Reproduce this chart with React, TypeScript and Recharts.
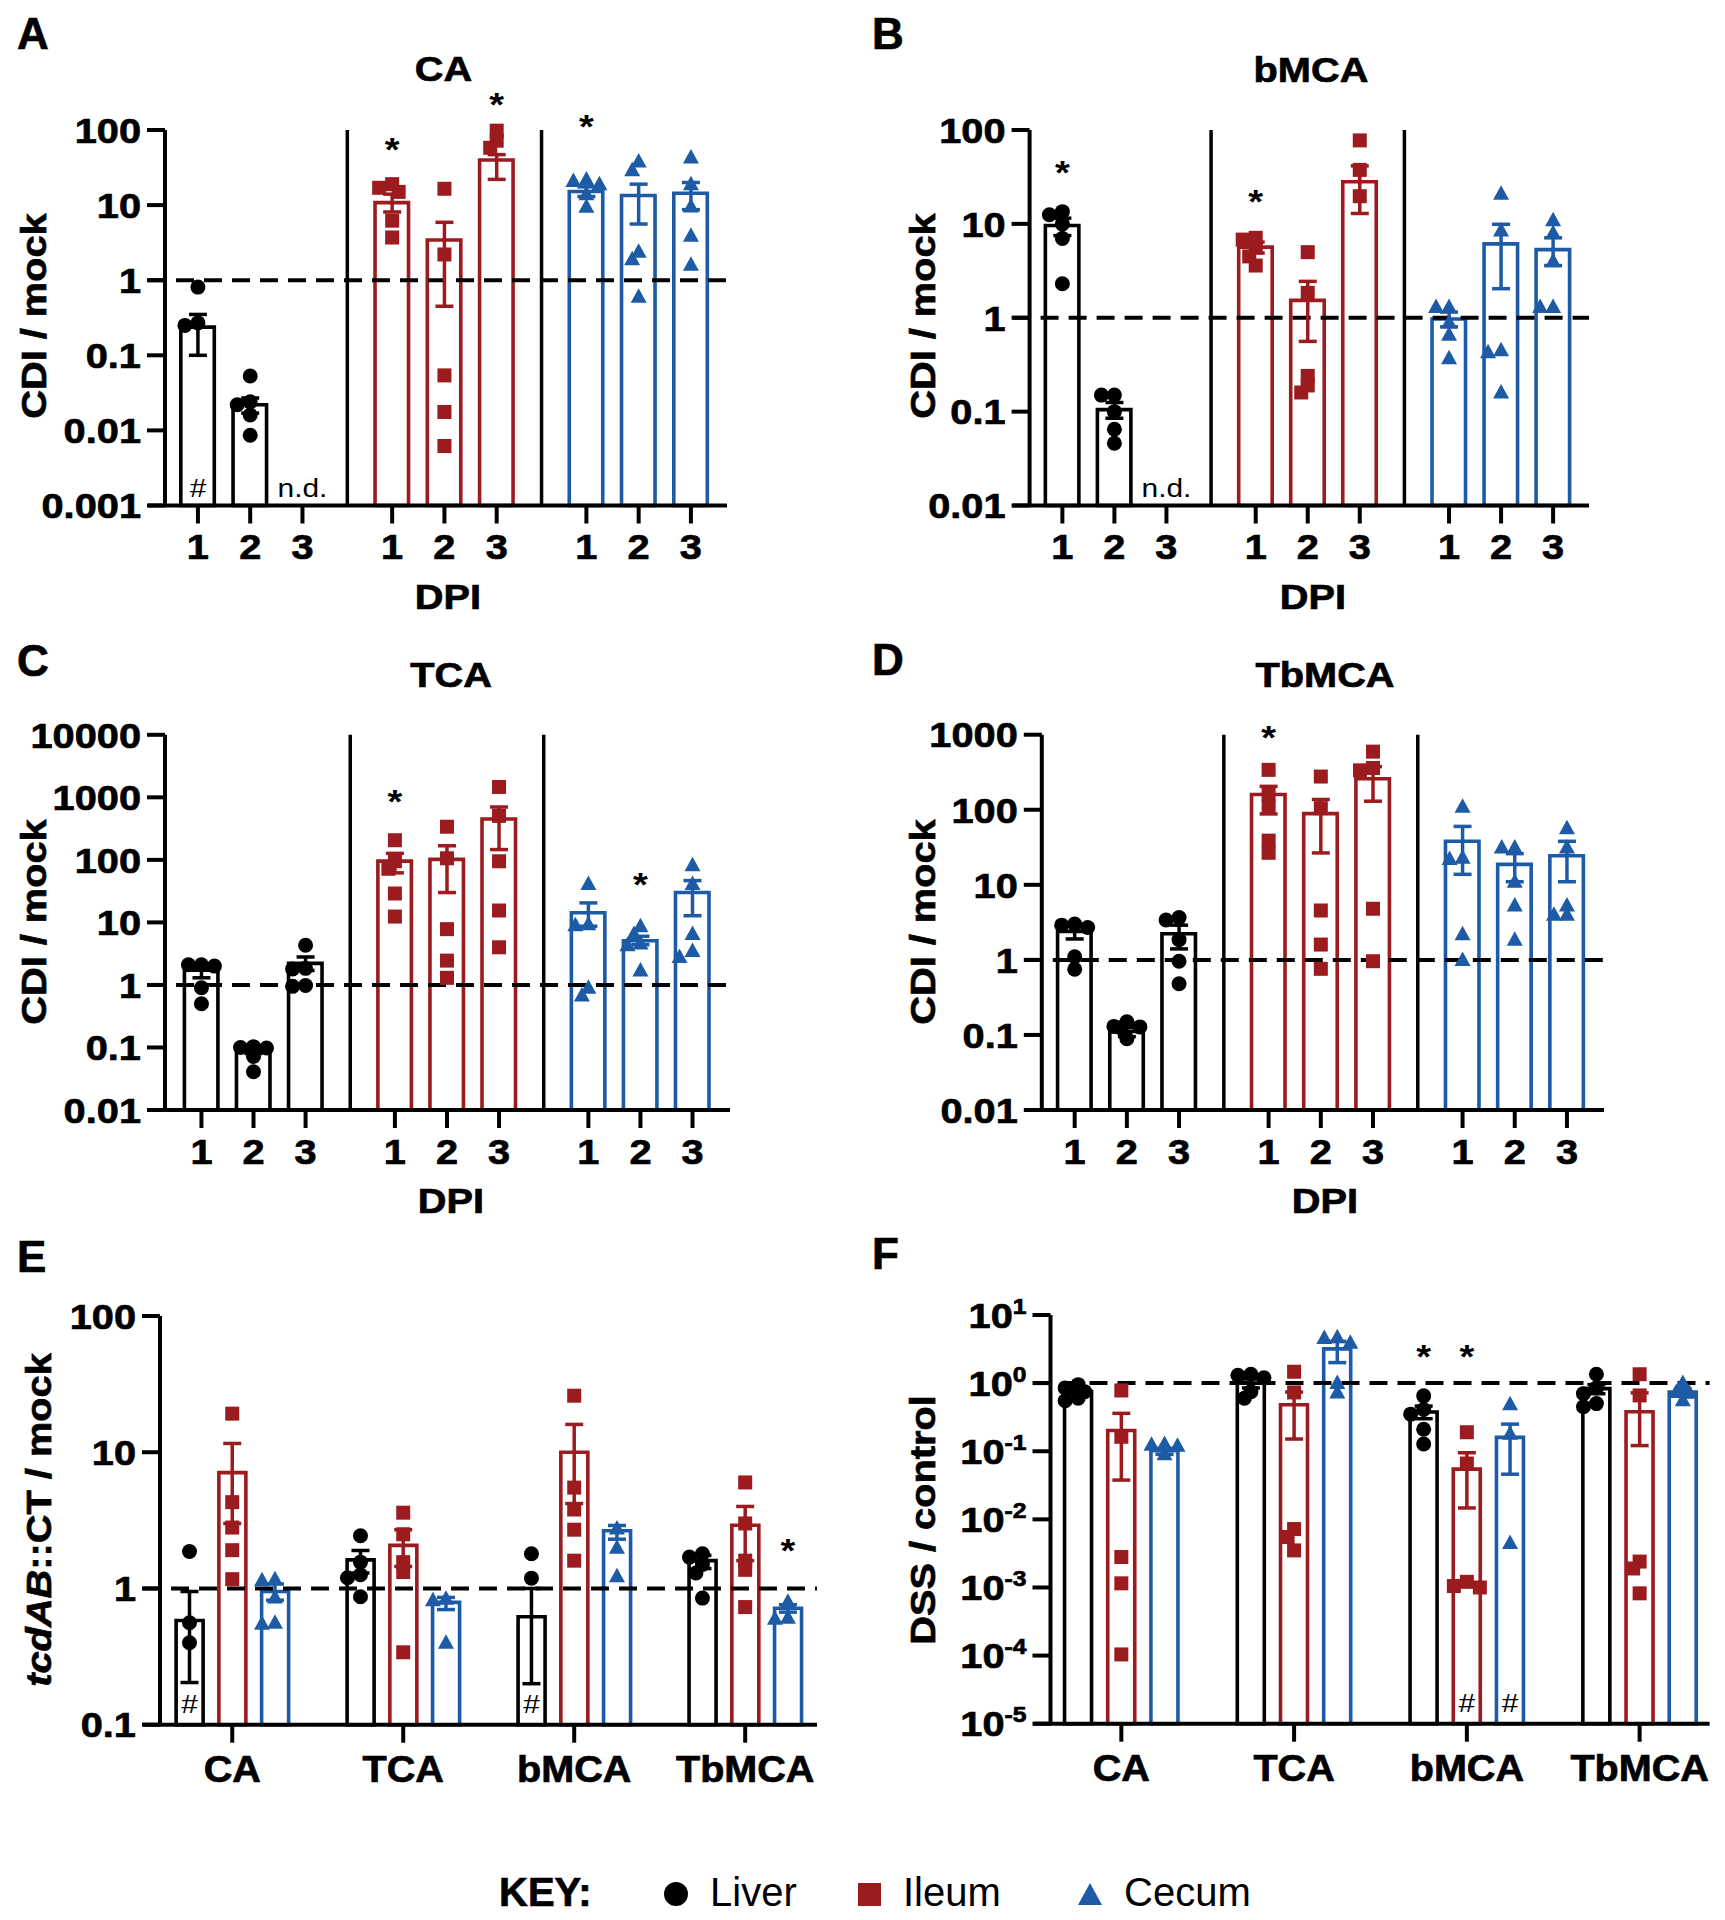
import React from 'react';
import { ComposedChart, Bar, Cell, Scatter, ErrorBar, XAxis, YAxis, ReferenceLine, ReferenceDot } from 'recharts';

const FONT = '"Liberation Sans", Arial, Helvetica, sans-serif';
const SX = 1.12;
const FS = 35.5;
const BOLD_STROKE = 0.7;
const Y_AXIS_W = 100;
const X_AXIS_H = 60;
const AXIS_EXT = 17;

const TISSUES = ['Liver', 'Ileum', 'Cecum'];
const DAYS = ['1', '2', '3'];
const ACIDS = ['CA', 'TCA', 'bMCA', 'TbMCA'];
const COLORS: Record<string, string> = { Liver: '#000000', Ileum: '#9B1B1F', Cecum: '#1D5BA6' };

// ---------- Panel A: CA (order: Liver d1-3, Ileum d1-3, Cecum d1-3) ----------
const caMean = [0.237, 0.022, null, 10.8, 3.43, 39.8, 15.2, 13.4, 14.4];
const caLow = [0.1, 0.017, null, 8.1, 0.45, 22, 13, 5.6, 8.7];
const caHigh = [0.35, 0.027, null, 14, 5.9, 47, 17.5, 19, 20];
const caPoints = [
  [0.81, 0.27, 0.25], [0.053, 0.024, 0.022, 0.016, 0.0086], [],
  [19, 17, 15, 6.2, 3.7], [16.5, 2.2, 0.054, 0.0176, 0.0062], [98, 72, 58],
  [22, 21, 19, 14, 9.5], [38, 29, 2.4, 1.9, 0.6], [43, 19, 9.6, 3.9, 1.6],
];
const caStars = [{ tissue: 'Ileum', day: 1, y: 69 }, { tissue: 'Ileum', day: 3, y: 275 }, { tissue: 'Cecum', day: 1, y: 140 }];
const caHash = [{ tissue: 'Liver', day: 1 }];
const caND = [{ tissue: 'Liver', day: 3 }];

// ---------- Panel B: bMCA ----------
const bmcaMean = [9.6, 0.105, null, 5.65, 1.53, 28.1, 0.97, 6.13, 5.32];
const bmcaLow = [7.5, 0.085, null, 4.9, 0.56, 12.9, 0.8, 2.04, 3.6];
const bmcaHigh = [11.5, 0.125, null, 6.4, 2.44, 41.5, 1.15, 9.9, 7.1];
const bmcaPoints = [
  [13.5, 12.5, 10, 7, 2.3], [0.15, 0.15, 0.1, 0.065, 0.046], [],
  [7.1, 6.8, 5.6, 4.5, 3.6], [5, 1.84, 0.24, 0.19, 0.16], [77.5, 37.6, 19.7],
  [1.3, 1.3, 0.89, 0.66, 0.37], [21, 8.5, 0.45, 0.43, 0.16], [10.9, 8, 4, 1.3, 1.3],
];
const bmcaStars = [{ tissue: 'Liver', day: 1, y: 42.6 }, { tissue: 'Ileum', day: 1, y: 20.9 }];
const bmcaND = [{ tissue: 'Liver', day: 3 }];

// ---------- Panel C: TCA ----------
const tcaMean = [1.72, 0.089, 2.21, 95.5, 102, 451, 14.3, 5.1, 30];
const tcaLow = [1.3, 0.08, 1.7, 62, 30, 146, 8.7, 4.4, 12.8];
const tcaHigh = [2.0, 0.1, 2.8, 127, 168, 700, 20.5, 6.0, 46.6];
const tcaPoints = [
  [2.1, 2.1, 2.0, 0.9, 0.5], [0.103, 0.1, 0.098, 0.072, 0.041], [4.3, 1.84, 1.8, 0.98, 0.95],
  [206, 95, 72, 29, 12.4], [339, 106, 7.8, 2.45, 1.3], [1465, 505, 95, 15.5, 4.0],
  [41, 9.3, 9.0, 0.9, 0.68], [8.7, 6.5, 4.6, 4.3, 1.7], [82, 41, 6.5, 3.5, 2.8],
];
const tcaStars = [{ tissue: 'Ileum', day: 1, y: 1125 }, { tissue: 'Cecum', day: 2, y: 54 }];

// ---------- Panel D: TbMCA ----------
const tbmcaMean = [2.4, 0.111, 2.23, 160, 88.8, 259, 38, 18.7, 24.4];
const tbmcaLow = [1.9, 0.095, 1.4, 88, 26.6, 130, 13.8, 11, 11];
const tbmcaHigh = [2.8, 0.125, 2.9, 205, 137, 375, 60, 26, 38];
const tbmcaPoints = [
  [3.0, 2.9, 2.7, 1.1, 0.75], [0.15, 0.13, 0.128, 0.125, 0.089], [3.66, 3.4, 1.86, 0.96, 0.48],
  [340, 160, 110, 38.8, 26.7], [277, 105, 4.55, 1.6, 0.76], [595, 360, 335, 4.8, 0.96],
  [110, 23, 22, 2.2, 1.0], [31.4, 31.4, 11, 5.3, 1.86], [56.5, 31.4, 5.3, 4.0, 4.0],
];
const tbmcaStars = [{ tissue: 'Ileum', day: 1, y: 1142 }];

// ---------- Panel E: tcdAB::CT / mock (order per acid: Liver, Ileum, Cecum) ----------
const eMean = [0.582, 7.08, 0.95, 1.62, 2.07, 0.79, 0.62, 10, 2.65, 1.6, 2.91, 0.716];
const eLow = [0.204, 3.0, 0.82, 1.3, 1.45, 0.7, 0.2, 4.2, 2.3, 1.4, 1.6, 0.67];
const eHigh = [0.95, 11.6, 1.08, 1.9, 2.7, 0.86, 1.0, 16, 2.9, 1.75, 4.0, 0.76];
const ePoints = [
  [1.87, 0.56, 0.4], [19.2, 4.3, 2.8, 1.91, 1.17], [1.17, 1.15, 0.86, 0.56, 0.55],
  [2.44, 1.56, 1.26, 1.2, 0.87], [3.6, 2.5, 1.56, 1.32, 0.34], [0.84, 0.82, 0.4],
  [1.8, 1.19], [26, 5.5, 3.8, 2.7, 1.6], [2.75, 1.99, 1.23],
  [1.8, 1.7, 1.5, 1.3, 0.85], [6.0, 3.0, 1.6, 1.37, 0.73], [0.8, 0.61, 0.6],
];
const eStars = [{ acid: 'TbMCA', tissue: 'Cecum', y: 2.15 }];
const eHash = [{ acid: 'CA', tissue: 'Liver' }, { acid: 'bMCA', tissue: 'Liver' }];

// ---------- Panel F: DSS / control ----------
const fMean = [0.75, 0.202, 0.1016, 1.0, 0.482, 3.18, 0.377, 0.0546, 0.16, 0.83, 0.38, 0.74];
const fLow = [0.68, 0.0377, 0.09, 0.85, 0.151, 2.0, 0.3, 0.0147, 0.046, 0.7, 0.121, 0.65];
const fHigh = [0.82, 0.36, 0.11, 1.15, 0.74, 4.1, 0.46, 0.095, 0.25, 0.95, 0.72, 0.82];
const fPoints = [
  [0.95, 0.85, 0.75, 0.6, 0.55], [0.78, 0.163, 0.0028, 0.00115, 0.000104], [0.128, 0.125, 0.12, 0.09],
  [1.35, 1.3, 1.2, 0.75, 0.6], [1.47, 0.73, 0.0072, 0.0055, 0.0035], [4.7, 4.6, 3.9, 1.0, 0.73],
  [0.65, 0.41, 0.35, 0.21, 0.128], [0.19, 0.066, 0.00121, 0.00105, 0.001], [0.49, 0.18, 0.0045],
  [1.35, 0.85, 0.7, 0.5, 0.45], [1.35, 0.66, 0.0024, 0.0019, 0.00082], [1.0, 0.74, 0.72, 0.56],
];
const fStars = [{ acid: 'bMCA', tissue: 'Liver', y: 3.17 }, { acid: 'bMCA', tissue: 'Ileum', y: 3.17 }];
const fHash = [{ acid: 'bMCA', tissue: 'Ileum' }, { acid: 'bMCA', tissue: 'Cecum' }];

const ticksA = [0.001, 0.01, 0.1, 1, 10, 100];
const ticksB = [0.01, 0.1, 1, 10, 100];
const ticksC = [0.01, 0.1, 1, 10, 100, 1000, 10000];
const ticksD = [0.01, 0.1, 1, 10, 100, 1000];
const ticksE = [0.1, 1, 10, 100];
const ticksF = [0.00001, 0.0001, 0.001, 0.01, 0.1, 1, 10];

// ---------- layout helpers ----------
const GROUP_STRIDE = 3.716;
const tcPos = (i: number) => Math.floor(i / 3) * GROUP_STRIDE + (i % 3) + 1;
const catPos = (i: number) => Math.floor(i / 3) * 4 + (i % 3);
const tcIdx = (a: any) => TISSUES.indexOf(a.tissue) * 3 + a.day - 1;
const catIdx = (a: any) => ACIDS.indexOf(a.acid) * 3 + TISSUES.indexOf(a.tissue);

function buildRows(means: any[], lows: any[], highs: any[], posFn: (i: number) => number, tissueFn: (i: number) => string) {
  return means.map((m, i) => ({
    x: posFn(i),
    tissue: tissueFn(i),
    mean: m,
    err: m == null ? null : [m - lows[i], highs[i] - m],
  }));
}

// simple deterministic bee-swarm spreading of overlapping markers (pixel offsets)
function swarm(vals: number[], ppd: number): number[] {
  const placed: { dx: number; y: number }[] = [];
  const step = 6.5;
  const minD = 9;
  const cands = [0, -step, step, -2 * step, 2 * step];
  return vals.map((v) => {
    const y = Math.log10(v) * ppd;
    let pick = 0;
    let best = -1;
    for (const c of cands) {
      const d = placed.length ? Math.min(...placed.map((p) => Math.hypot(p.dx - c, p.y - y))) : Infinity;
      if (d >= minD) { pick = c; best = Infinity; break; }
      if (d > best) { best = d; pick = c; }
    }
    placed.push({ dx: pick, y });
    return pick;
  });
}

function buildPoints(rows: any[], points: number[][], ppd: number) {
  const out: any[] = [];
  rows.forEach((r, i) => {
    const vals = points[i] || [];
    const offs = swarm(vals, ppd);
    vals.forEach((v, j) => out.push({ x: r.x, v, dx: offs[j], tissue: r.tissue }));
  });
  return out;
}

const Marker = (p: any) => {
  const { cx, cy, payload } = p;
  if (cx == null || cy == null) return <g />;
  const x = cx + (payload?.dx || 0);
  const t = payload?.tissue;
  const c = COLORS[t];
  if (t === 'Liver') return <circle cx={x} cy={cy} r={7.5} fill={c} />;
  if (t === 'Ileum') return <rect x={x - 7} y={cy - 7} width={14} height={14} fill={c} />;
  return <polygon points={`${x},${cy - 8.5} ${x - 8},${cy + 6} ${x + 8},${cy + 6}`} fill={c} />;
};

const YTick = (p: any) => {
  const { x, y, payload, sup } = p;
  const v = payload.value;
  const exp = Math.round(Math.log10(v));
  return (
    <g transform={`translate(${x},${y}) scale(${SX},1)`}>
      <text textAnchor="end" dy="0.36em" fontSize={FS} fontWeight="bold" fontFamily={FONT} fill="#000"
        stroke="#000" strokeWidth={BOLD_STROKE}>
        {sup ? (<>10<tspan dy={-14} fontSize={22}>{String(exp)}</tspan></>) : String(v)}
      </text>
    </g>
  );
};

const XTick = (p: any) => {
  const { x, y, payload, ticks, labels, dyBase, size, sx } = p;
  const idx = ticks.indexOf(payload.value);
  return (
    <g transform={`translate(${x},${y + dyBase}) scale(${sx},1)`}>
      <text textAnchor="middle" fontSize={size} fontWeight="bold" fontFamily={FONT} fill="#000"
        stroke="#000" strokeWidth={BOLD_STROKE}>{labels[idx]}</text>
    </g>
  );
};

function Panel(props: any) {
  const { box, rows, points, yDomain, yTicks, sup, xDomain, xTicks, xLabels, xLabelDy, xLabelSize, xLabelSx,
    separators, stars, hashes, nds, barSize, hashDy } = props;
  const plotW = box.w - box.ml - box.mr - Y_AXIS_W;
  const plotH = box.h - box.mt - box.mb - X_AXIS_H;
  const unit = plotW / (xDomain[1] - xDomain[0]);
  const ppd = plotH / Math.log10(yDomain[1] / yDomain[0]);
  const xExt = xDomain[0] - AXIS_EXT / unit;
  const pts = buildPoints(rows, points, ppd);
  const ymin = yDomain[0];

  const starShape = (s: any) => (
    <g transform={`translate(${s.cx},${s.cy + 19}) scale(${SX},1)`}>
      <text textAnchor="middle" fontSize={34} fontWeight="bold" fontFamily={FONT} fill="#000">*</text>
    </g>
  );
  const textShape = (txt: string) => (s: any) => (
    <g transform={`translate(${s.cx},${s.cy - hashDy}) scale(1.15,1)`}>
      <text textAnchor="middle" fontSize={26} fontFamily={FONT} fill="#000">{txt}</text>
    </g>
  );

  return (
    <div style={{ position: 'absolute', left: box.left, top: box.top }}>
      <ComposedChart width={box.w} height={box.h} data={rows}
        margin={{ top: box.mt, right: box.mr, bottom: box.mb, left: box.ml }}>
        <XAxis dataKey="x" type="number" domain={xDomain} ticks={xTicks} interval={0} height={X_AXIS_H}
          axisLine={false} tickLine={{ stroke: '#000', strokeWidth: 4 }} tickSize={18} tickMargin={2}
          tick={<XTick ticks={xTicks} labels={xLabels} dyBase={xLabelDy} size={xLabelSize} sx={xLabelSx} />} />
        <YAxis type="number" scale="log" domain={yDomain} ticks={yTicks} interval={0} width={Y_AXIS_W}
          axisLine={{ stroke: '#000', strokeWidth: 4 }} tickLine={{ stroke: '#000', strokeWidth: 4 }}
          tickSize={18} tickMargin={6} tick={<YTick sup={sup} />} />
        <Bar dataKey="mean" barSize={barSize} fill="#ffffff" strokeWidth={3.6} isAnimationActive={false}>
          {rows.map((r: any, i: number) => <Cell key={i} stroke={COLORS[r.tissue]} fill="#ffffff" />)}
        </Bar>
        {separators.map((s: number) => (
          <ReferenceLine key={'sep' + s} segment={[{ x: s, y: ymin }, { x: s, y: yDomain[1] }]}
            stroke="#000" strokeWidth={3.5} ifOverflow="visible" />
        ))}
        <ReferenceLine segment={[{ x: xExt, y: ymin }, { x: xDomain[1], y: ymin }]} stroke="#000" strokeWidth={4} ifOverflow="visible" />
        <ReferenceLine segment={[{ x: xExt, y: 1 }, { x: xDomain[1], y: 1 }]} stroke="#000" strokeWidth={4}
          strokeDasharray="18 10" ifOverflow="visible" />
        {TISSUES.map((t) => (
          <Scatter key={'err' + t} data={rows.filter((r: any) => r.tissue === t && r.mean != null)} dataKey="mean"
            shape={() => <g />} isAnimationActive={false}>
            <ErrorBar dataKey="err" direction="y" width={9} stroke={COLORS[t]} strokeWidth={3.5} />
          </Scatter>
        ))}
        {TISSUES.map((t) => (
          <Scatter key={'pt' + t} data={pts.filter((r: any) => r.tissue === t)} dataKey="v"
            shape={Marker} isAnimationActive={false} />
        ))}
        {stars.map((s: any, i: number) => (
          <ReferenceDot key={'st' + i} x={s.x} y={s.y} r={0} ifOverflow="visible" shape={starShape} />
        ))}
        {hashes.map((s: any, i: number) => (
          <ReferenceDot key={'h' + i} x={s.x} y={ymin} r={0} ifOverflow="visible" shape={textShape('#')} />
        ))}
        {nds.map((s: any, i: number) => (
          <ReferenceDot key={'nd' + i} x={s.x} y={ymin} r={0} ifOverflow="visible" shape={textShape('n.d.')} />
        ))}
      </ComposedChart>
    </div>
  );
}

function T({ x, y, s = FS, w = 'bold', sx = SX, a = 'middle', r = 0, children }: any) {
  const bold = w === 'bold';
  return (
    <g transform={`translate(${x},${y}) rotate(${r}) scale(${sx},1)`}>
      <text textAnchor={a} fontSize={s} fontWeight={w} fontFamily={FONT} fill="#000"
        stroke={bold ? '#000' : 'none'} strokeWidth={bold ? BOLD_STROKE : 0}>{children}</text>
    </g>
  );
}

const tcTissue = (i: number) => TISSUES[Math.floor(i / 3)];
const catTissue = (i: number) => TISSUES[i % 3];
const tcTicks = [0, 1, 2, 3, 4, 5, 6, 7, 8].map(tcPos);
const tcLabels = tcTicks.map((_, i) => DAYS[i % 3]);
const catTicks = ACIDS.map((_, g) => g * 4 + 1);
const tcSeparators = [3 + (GROUP_STRIDE - 2) / 2, 3 + GROUP_STRIDE + (GROUP_STRIDE - 2) / 2];

function tcPanel(box: any, mean: any[], low: any[], high: any[], pts: number[][], yDomain: number[], yTicks: number[],
  stars: any[], hashes: any[], nds: any[], padL: number, padR: number) {
  const rows = buildRows(mean, low, high, tcPos, tcTissue);
  return (
    <Panel box={box} rows={rows} points={pts} yDomain={yDomain} yTicks={yTicks} sup={false}
      xDomain={[1 - padL, tcPos(8) + padR]} xTicks={tcTicks} xLabels={tcLabels} xLabelDy={33.5} xLabelSize={FS} xLabelSx={SX}
      separators={tcSeparators} barSize={33.5} hashDy={8.5}
      stars={stars.map((s) => ({ x: tcPos(tcIdx(s)), y: s.y }))}
      hashes={hashes.map((s) => ({ x: tcPos(tcIdx(s)) }))}
      nds={nds.map((s) => ({ x: tcPos(tcIdx(s)) }))} />
  );
}

function catPanel(box: any, mean: any[], low: any[], high: any[], pts: number[][], yDomain: number[], yTicks: number[],
  sup: boolean, stars: any[], hashes: any[], padL: number, padR: number) {
  const rows = buildRows(mean, low, high, catPos, catTissue);
  return (
    <Panel box={box} rows={rows} points={pts} yDomain={yDomain} yTicks={yTicks} sup={sup}
      xDomain={[-padL, catPos(11) + padR]} xTicks={catTicks} xLabels={ACIDS} xLabelDy={37.5} xLabelSize={37} xLabelSx={1.07}
      separators={[]} barSize={27} hashDy={12}
      stars={stars.map((s) => ({ x: catPos(catIdx(s)), y: s.y }))}
      hashes={hashes.map((s) => ({ x: catPos(catIdx(s)) }))}
      nds={[]} />
  );
}

export default function App() {
  return (
    <div style={{ position: 'absolute', left: 0, top: 0, width: 1725, height: 1920, background: '#fff', overflow: 'hidden' }}>
      {tcPanel({ left: 0, top: 0, w: 760, h: 620, ml: 65, mr: 33, mt: 130, mb: 54.5 },
        caMean, caLow, caHigh, caPoints, [0.001, 100], ticksA, caStars, caHash, caND, 0.63, 0.69)}
      {tcPanel({ left: 860, top: 0, w: 760, h: 620, ml: 69.6, mr: 31, mt: 130, mb: 54.5 },
        bmcaMean, bmcaLow, bmcaHigh, bmcaPoints, [0.01, 100], ticksB, bmcaStars, [], bmcaND, 0.63, 0.69)}
      {tcPanel({ left: 0, top: 600, w: 760, h: 620, ml: 65, mr: 30, mt: 134.8, mb: 50 },
        tcaMean, tcaLow, tcaHigh, tcaPoints, [0.01, 10000], ticksC, tcaStars, [], [], 0.7, 0.72)}
      {tcPanel({ left: 860, top: 600, w: 760, h: 620, ml: 81.8, mr: 16, mt: 134.7, mb: 50 },
        tbmcaMean, tbmcaLow, tbmcaHigh, tbmcaPoints, [0.01, 1000], ticksD, tbmcaStars, [], [], 0.63, 0.71)}
      {catPanel({ left: 0, top: 1200, w: 860, h: 620, ml: 60, mr: 43, mt: 116, mb: 35.3 },
        eMean, eLow, eHigh, ePoints, [0.1, 100], ticksE, false, eStars, eHash, 0.69, 0.68)}
      {catPanel({ left: 860, top: 1200, w: 865, h: 620, ml: 90.5, mr: 15.4, mt: 115, mb: 36.3 },
        fMean, fLow, fHigh, fPoints, [0.00001, 10], ticksF, true, fStars, fHash, 0.64, 0.62)}

      <svg width={1725} height={1920} style={{ position: 'absolute', left: 0, top: 0, pointerEvents: 'none' }}>
        <T x={17} y={48.5} s={44} sx={1} a="start">A</T>
        <T x={872} y={48.5} s={44} sx={1} a="start">B</T>
        <T x={17} y={676} s={44} sx={1} a="start">C</T>
        <T x={872} y={675} s={44} sx={1} a="start">D</T>
        <T x={17} y={1271.5} s={44} sx={1} a="start">E</T>
        <T x={872} y={1269} s={44} sx={1} a="start">F</T>

        <T x={443.5} y={80.5}>CA</T>
        <T x={1311} y={82}>bMCA</T>
        <T x={451} y={686.5}>TCA</T>
        <T x={1325} y={687}>TbMCA</T>

        <T x={448} y={608.5}>DPI</T>
        <T x={1313} y={608.5}>DPI</T>
        <T x={451} y={1213}>DPI</T>
        <T x={1325} y={1213}>DPI</T>

        <T x={45.5} y={316} r={-90}>CDI / mock</T>
        <T x={935} y={316} r={-90}>CDI / mock</T>
        <T x={45.5} y={922} r={-90}>CDI / mock</T>
        <T x={935} y={922} r={-90}>CDI / mock</T>
        <T x={51} y={1520} r={-90}><tspan fontStyle="italic">tcdAB</tspan>::CT / mock</T>
        <T x={935} y={1520} r={-90}>DSS / control</T>

        <T x={499} y={1906} s={40} sx={1} a="start">KEY:</T>
        <circle cx={676} cy={1894} r={12} fill={COLORS.Liver} />
        <T x={710} y={1906} s={40} w="normal" sx={1} a="start">Liver</T>
        <rect x={858} y={1883} width={23} height={23} fill={COLORS.Ileum} />
        <T x={903} y={1906} s={40} w="normal" sx={1} a="start">Ileum</T>
        <polygon points="1090,1883 1078,1905 1102,1905" fill={COLORS.Cecum} />
        <T x={1124} y={1906} s={40} w="normal" sx={1} a="start">Cecum</T>
      </svg>
    </div>
  );
}
